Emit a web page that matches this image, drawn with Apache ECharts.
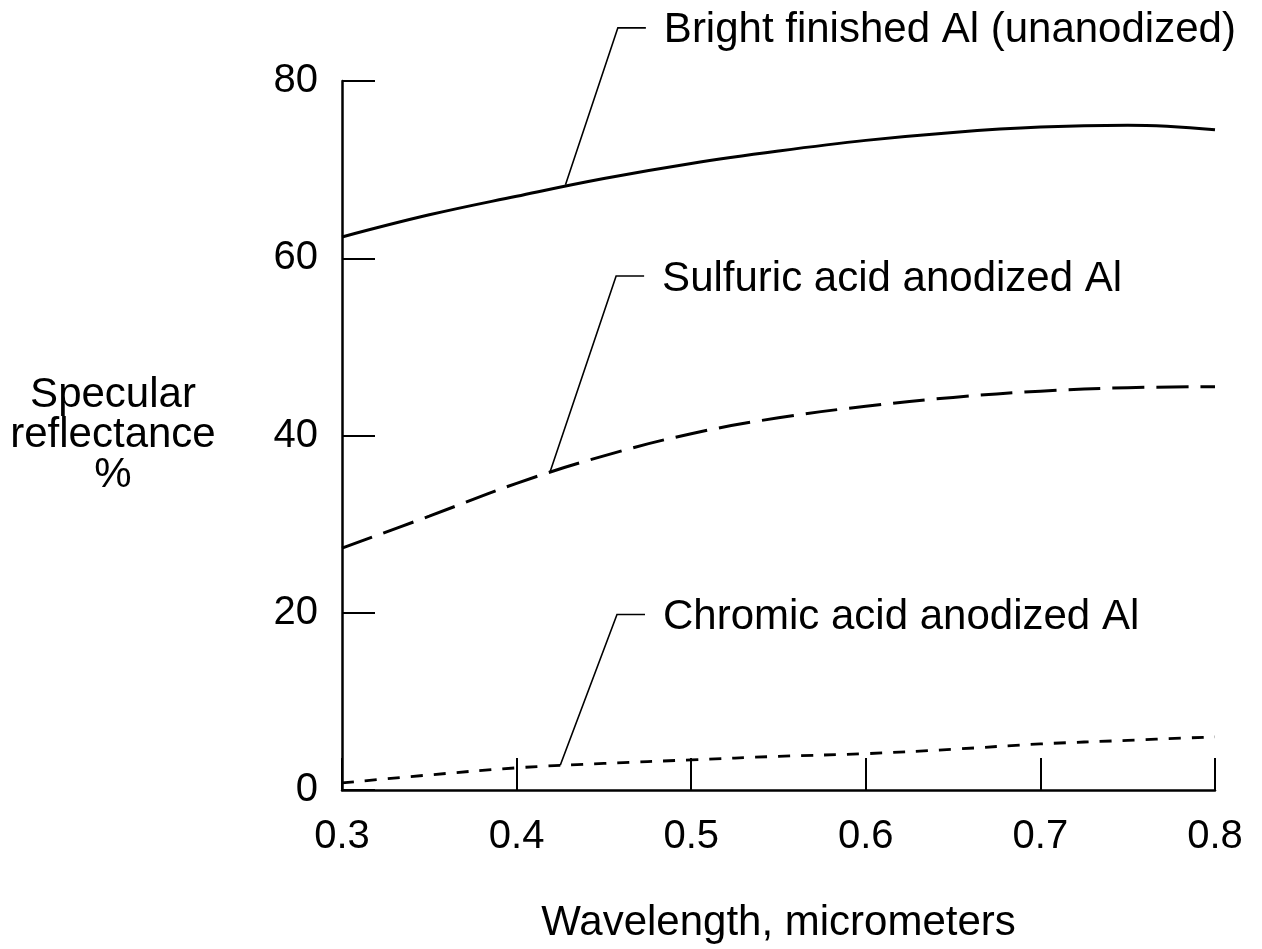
<!DOCTYPE html>
<html>
<head>
<meta charset="utf-8">
<script src="https://cdn.jsdelivr.net/npm/echarts@6/dist/echarts.min.js"></script>
<style>
html,body{margin:0;padding:0;background:#fff;}
#chart{width:1262px;height:949px;}
</style>
</head>
<body>
<div id="chart"></div>
<script>
// Data
const wavelengths = [0.30, 0.35, 0.40, 0.45, 0.50, 0.55, 0.60, 0.65, 0.70, 0.75, 0.80];
const brightAl    = [62.4, 64.9, 67.0, 69.0, 70.7, 72.1, 73.3, 74.2, 74.8, 75.0, 74.5];
const sulfuricAl  = [27.3, 30.9, 34.6, 37.7, 40.2, 42.0, 43.3, 44.3, 45.0, 45.4, 45.5];
const chromicAl   = [0.8, 1.7, 2.5, 3.0, 3.4, 3.8, 4.1, 4.6, 5.2, 5.6, 6.0];
const seriesNames = ['Bright finished Al (unanodized)', 'Sulfuric acid anodized Al', 'Chromic acid anodized Al'];
const yTicks = [0, 20, 40, 60, 80];
const xTicks = [0.3, 0.4, 0.5, 0.6, 0.7, 0.8];
// annotation anchors (on curve) and leader tops, in data coordinates
const annoAnchorX = [0.428, 0.419, 0.425];
const annoAnchorY = [68.3, 35.8, 2.8];
const annoTopX    = [0.458, 0.457, 0.4575];
const annoTopY    = [86.0, 58.0, 19.8];

const FONT = '"Liberation Sans", Arial, Helvetica, sans-serif';
const chart = echarts.init(document.getElementById('chart'), null, {renderer: 'canvas'});

function pairs(ys) { return wavelengths.map((x, i) => [x, ys[i]]); }

const option = {
  backgroundColor: '#fff',
  animation: false,
  grid: {left: 342, right: 47, top: 81, bottom: 156, containLabel: false},
  xAxis: {
    type: 'value',
    min: xTicks[0], max: xTicks[xTicks.length - 1], interval: 0.1,
    name: 'Wavelength, micrometers',
    nameLocation: 'middle', nameGap: 112,
    nameTextStyle: {fontFamily: FONT, fontSize: 42, color: '#000'},
    axisLine: {show: true, lineStyle: {color: '#000', width: 2.5}},
    axisTick: {show: true, inside: true, length: 32, lineStyle: {color: '#000', width: 2}},
    axisLabel: {
      fontFamily: FONT, fontSize: 40, color: '#000', margin: 27,
      formatter: v => Number(v).toFixed(1)
    },
    splitLine: {show: false}
  },
  yAxis: {
    type: 'value',
    min: yTicks[0], max: yTicks[yTicks.length - 1], interval: 20,
    name: 'Specular\nreflectance\n%',
    nameLocation: 'middle', nameGap: 229, nameRotate: 0,
    nameTextStyle: {fontFamily: FONT, fontSize: 42, color: '#000', lineHeight: 40, align: 'center', verticalAlign: 'middle', padding: [6, 0, 0, 0]},
    axisLine: {show: true, lineStyle: {color: '#000', width: 2.5}},
    axisTick: {show: true, inside: true, length: 33, lineStyle: {color: '#000', width: 2}},
    axisLabel: {fontFamily: FONT, fontSize: 40, color: '#000', margin: 24},
    splitLine: {show: false}
  },
  series: [
    {
      name: seriesNames[0], type: 'line', data: pairs(brightAl), smooth: 0.4,
      symbol: 'none', lineStyle: {color: '#000', width: 3, type: 'solid'}
    },
    {
      name: seriesNames[1], type: 'line', data: pairs(sulfuricAl), smooth: 0.4,
      symbol: 'none', lineStyle: {color: '#000', width: 3, type: [32, 12]}
    },
    {
      name: seriesNames[2], type: 'line', data: pairs(chromicAl), smooth: 0.4,
      symbol: 'none', lineStyle: {color: '#000', width: 2.8, type: [12, 11]}
    }
  ]
};
chart.setOption(option);

// leader lines and annotation labels, positioned via the chart's own scales
const graphics = [];
seriesNames.forEach((name, i) => {
  const a = chart.convertToPixel({gridIndex: 0}, [annoAnchorX[i], annoAnchorY[i]]);
  const t = chart.convertToPixel({gridIndex: 0}, [annoTopX[i], annoTopY[i]]);
  graphics.push({
    type: 'polyline', silent: true, z: 10,
    shape: {points: [a, t, [t[0] + 28, t[1]]]},
    style: {stroke: '#000', lineWidth: 1.6, fill: null}
  });
  graphics.push({
    type: 'text', silent: true, z: 10,
    x: t[0] + 46, y: t[1] + 3,
    style: {text: name, fontFamily: FONT, fontSize: 42, fill: '#000', textAlign: 'left', textVerticalAlign: 'middle'}
  });
});
chart.setOption({graphic: graphics});
</script>
</body>
</html>
